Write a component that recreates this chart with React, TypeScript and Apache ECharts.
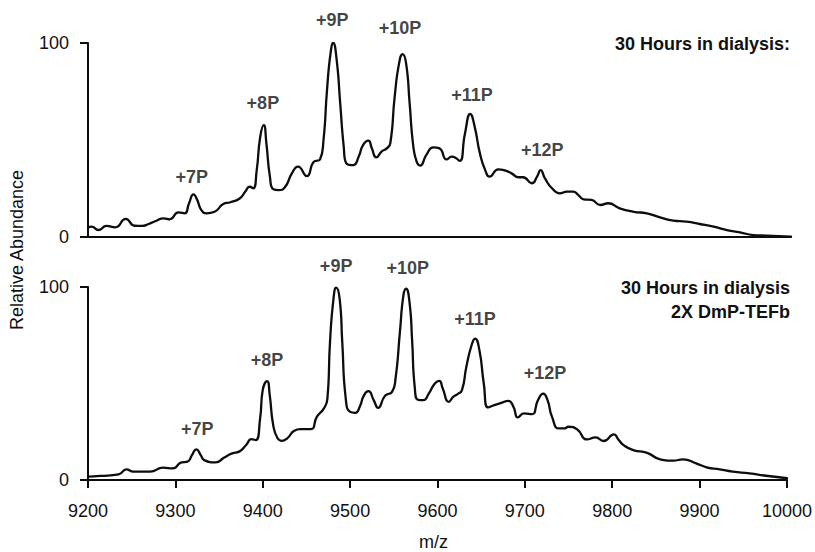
import React, { useEffect, useRef } from "react";
import * as echarts from "echarts";

// ---- Data ----
const xTicks = [9200, 9300, 9400, 9500, 9600, 9700, 9800, 9900, 10000];

const topMz = [
  9200, 9204, 9212, 9221, 9231, 9243, 9253, 9261, 9269, 9278, 9286, 9293, 9303, 9310, 9315, 9320,
  9324, 9329, 9335, 9344, 9354, 9362, 9373, 9379, 9384, 9388, 9392, 9396, 9400, 9403, 9407, 9411,
  9417, 9424, 9432, 9439, 9449, 9457, 9464, 9468, 9472, 9476, 9479, 9483, 9487, 9491, 9494, 9502,
  9508, 9513, 9519, 9523, 9528, 9534, 9540, 9544, 9549, 9554, 9558, 9562, 9566, 9570, 9574, 9578,
  9585, 9593, 9600, 9608, 9614, 9618, 9623, 9629, 9635, 9640, 9646, 9652, 9657, 9667, 9675, 9682,
  9690, 9695, 9705, 9711, 9715, 9720, 9728, 9737, 9745, 9752, 9758, 9764, 9773, 9783, 9792, 9805,
  9821, 9836, 9851, 9866, 9881, 9896, 9912, 9927, 9942, 9957, 9972, 10000,
];
const topAbundance = [
  4.8, 5.3, 3.6, 5.7, 5.0, 9.3, 5.8, 5.7, 6.7, 8.4, 9.6, 9.1, 12.7, 12.2, 17.4, 22.0,
  19.4, 13.9, 12.2, 13.0, 17.0, 17.9, 20.0, 23.4, 25.9, 25.1, 34.5, 51.7, 57.7, 48.3, 31.1, 24.6,
  24.2, 25.6, 32.8, 36.3, 31.4, 38.8, 40.0, 50.0, 75.8, 94.7, 100, 91.2, 68.9, 46.6, 38.0, 37.1,
  41.4, 47.4, 49.7, 45.7, 41.0, 44.0, 45.7, 48.3, 72.3, 89.5, 94.3, 89.5, 69.0, 47.5, 38.8, 36.8,
  42.3, 46.2, 45.7, 40.0, 41.4, 40.9, 39.2, 53.4, 63.4, 56.9, 43.1, 34.5, 31.1, 34.9, 34.2, 32.8,
  30.8, 30.8, 27.7, 31.1, 34.5, 30.2, 25.1, 22.5, 23.4, 23.4, 21.6, 19.4, 19.1, 16.5, 17.4, 14.8,
  13.0, 12.2, 10.1, 8.4, 7.9, 6.7, 5.3, 3.6, 2.4, 1.0, 0.7, 0.2,
];

const bottomMz = [
  9200, 9214, 9235, 9244, 9252, 9271, 9286, 9297, 9307, 9314, 9319, 9324, 9329, 9333, 9346, 9356,
  9365, 9373, 9381, 9387, 9392, 9397, 9400, 9405, 9408, 9412, 9417, 9422, 9428, 9436, 9443, 9455,
  9462, 9470, 9474, 9477, 9481, 9484, 9488, 9491, 9495, 9500, 9506, 9511, 9516, 9521, 9527, 9532,
  9540, 9548, 9552, 9557, 9561, 9564, 9568, 9571, 9574, 9578, 9584, 9590, 9597, 9602, 9606, 9613,
  9618, 9623, 9628, 9633, 9639, 9643, 9648, 9653, 9658, 9665, 9673, 9681, 9687, 9692, 9699, 9708,
  9715, 9721, 9726, 9731, 9739, 9745, 9750, 9760, 9771, 9781, 9790, 9802, 9807, 9813, 9824, 9840,
  9855, 9870, 9881, 9896, 9908, 9923, 9938, 9957, 9976, 10000,
];
const bottomAbundance = [
  1.7, 2.1, 2.9, 5.5, 4.3, 4.3, 6.4, 6.0, 9.1, 9.5, 12.9, 15.9, 12.9, 10.3, 9.1, 11.7,
  13.8, 14.7, 18.1, 21.2, 20.7, 31.9, 46.6, 51.2, 44.0, 28.4, 21.6, 20.3, 21.6, 25.5, 26.4, 26.4,
  32.8, 37.1, 42.2, 71.6, 94.0, 99.7, 94.0, 71.6, 42.2, 35.3, 34.8, 37.9, 44.0, 46.0, 41.4, 37.4,
  43.6, 45.7, 52.6, 76.7, 95.7, 99.1, 92.0, 72.0, 48.0, 41.5, 41.4, 44.8, 50.0, 51.4, 47.4, 40.5,
  43.1, 44.5, 46.6, 58.6, 69.8, 73.3, 67.2, 50.0, 37.6, 38.8, 40.0, 41.0, 37.9, 32.4, 34.5, 34.1,
  41.4, 44.8, 41.4, 32.8, 26.7, 26.7, 27.6, 26.2, 21.0, 22.1, 20.2, 23.6, 21.0, 18.1, 15.5, 14.1,
  10.7, 10.0, 10.7, 8.6, 6.6, 5.5, 4.3, 3.4, 2.2, 0.9,
];

// Peak annotations (label anchor in data units)
const topLabels = ["+7P", "+8P", "+9P", "+10P", "+11P", "+12P"];
const topLabelMz = [9318, 9399, 9478, 9555, 9637, 9717];
const topLabelAb = [30.9, 69.1, 111.9, 107.7, 73.2, 44.8];

const bottomLabels = ["+7P", "+8P", "+9P", "+10P", "+11P", "+12P"];
const bottomLabelMz = [9325, 9405, 9484, 9566, 9643, 9723];
const bottomLabelAb = [26.5, 62.4, 110.7, 110.0, 83.6, 55.2];

const topTitle = "30 Hours in dialysis:";
const bottomTitle = ["30 Hours in dialysis", "2X DmP-TEFb"];
const yName = "Relative Abundance";
const xName = "m/z";

const FONT = "'Liberation Sans', Arial, sans-serif";
const TEXT = "#111111";
const LINE = "#0d0d0d";

export default function App() {
  const ref = useRef<HTMLDivElement>(null);

  useEffect(() => {
    if (!ref.current) return;
    const chart = echarts.init(ref.current, undefined, { renderer: "svg" });

    const pairs = (xs: number[], ys: number[]) => xs.map((x, i) => [x, ys[i]]);
    const labelData = (names: string[], xs: number[], ys: number[]) =>
      names.map((n, i) => ({ name: n, value: [xs[i], ys[i]] }));

    const yAxisCommon = {
      type: "value",
      min: 0,
      max: 100,
      interval: 100,
      splitLine: { show: false },
      axisLine: { show: true, lineStyle: { color: LINE, width: 2 } },
      axisTick: { show: true, inside: false, length: 8, lineStyle: { color: LINE, width: 2 } },
      axisLabel: { color: TEXT, fontSize: 18, fontFamily: FONT, margin: 19 },
    };

    const labelSeries = (idx: number, data: any[]) => ({
      type: "scatter",
      xAxisIndex: idx,
      yAxisIndex: idx,
      symbolSize: 0,
      clip: false,
      silent: true,
      data,
      label: {
        show: true,
        position: "inside",
        formatter: (p: any) => p.name,
        color: TEXT,
        fontSize: 18,
        fontWeight: "bold",
        fontFamily: FONT,
      },
      z: 5,
    });

    const lineSeries = (idx: number, data: number[][]) => ({
      type: "line",
      xAxisIndex: idx,
      yAxisIndex: idx,
      data,
      showSymbol: false,
      smooth: 0.55,
      lineStyle: { color: LINE, width: 2.3, join: "round", cap: "round" },
      silent: true,
    });

    chart.setOption({
      animation: false,
      backgroundColor: "#ffffff",
      grid: [
        { left: 88, top: 43, width: 703, height: 194 },
        { left: 88, top: 287, width: 703, height: 193 },
      ],
      xAxis: [
        {
          type: "value",
          gridIndex: 0,
          min: xTicks[0],
          max: xTicks[xTicks.length - 1],
          interval: 100,
          splitLine: { show: false },
          axisLine: { show: true, lineStyle: { color: LINE, width: 2 } },
          axisTick: { show: false },
          axisLabel: { show: false },
        },
        {
          type: "value",
          gridIndex: 1,
          min: xTicks[0],
          max: xTicks[xTicks.length - 1],
          interval: 100,
          splitLine: { show: false },
          axisLine: { show: true, lineStyle: { color: LINE, width: 2 } },
          axisTick: { show: true, inside: false, length: 8, lineStyle: { color: LINE, width: 2 } },
          axisLabel: {
            color: TEXT,
            fontSize: 18,
            fontFamily: FONT,
            margin: 22,
            formatter: (v: number) => String(v),
          },
          name: xName,
          nameLocation: "middle",
          nameGap: 53,
          nameTextStyle: { color: TEXT, fontSize: 18, fontFamily: FONT, padding: [0, 8, 0, 0] },
        },
      ],
      yAxis: [
        { ...yAxisCommon, gridIndex: 0 },
        { ...yAxisCommon, gridIndex: 1 },
      ],
      series: [
        lineSeries(0, pairs(topMz, topAbundance)),
        lineSeries(1, pairs(bottomMz, bottomAbundance)),
        labelSeries(0, labelData(topLabels, topLabelMz, topLabelAb)),
        labelSeries(1, labelData(bottomLabels, bottomLabelMz, bottomLabelAb)),
      ],
      graphic: [
        {
          type: "text",
          x: 790,
          y: 44,
          style: {
            text: topTitle,
            fill: TEXT,
            font: `bold 18px ${FONT}`,
            textAlign: "right",
            textVerticalAlign: "middle",
          },
        },
        {
          type: "text",
          x: 790,
          y: 288,
          style: {
            text: bottomTitle[0],
            fill: TEXT,
            font: `bold 18px ${FONT}`,
            textAlign: "right",
            textVerticalAlign: "middle",
          },
        },
        {
          type: "text",
          x: 790,
          y: 312,
          style: {
            text: bottomTitle[1],
            fill: TEXT,
            font: `bold 18px ${FONT}`,
            textAlign: "right",
            textVerticalAlign: "middle",
          },
        },
        {
          type: "text",
          x: 17,
          y: 250,
          rotation: Math.PI / 2,
          style: {
            text: yName,
            fill: TEXT,
            font: `18px ${FONT}`,
            textAlign: "center",
            textVerticalAlign: "middle",
          },
        },
      ],
    });

    return () => chart.dispose();
  }, []);

  return (
    <div
      ref={ref}
      style={{ position: "fixed", left: 0, top: 0, width: 815, height: 552, background: "#fff" }}
    />
  );
}
